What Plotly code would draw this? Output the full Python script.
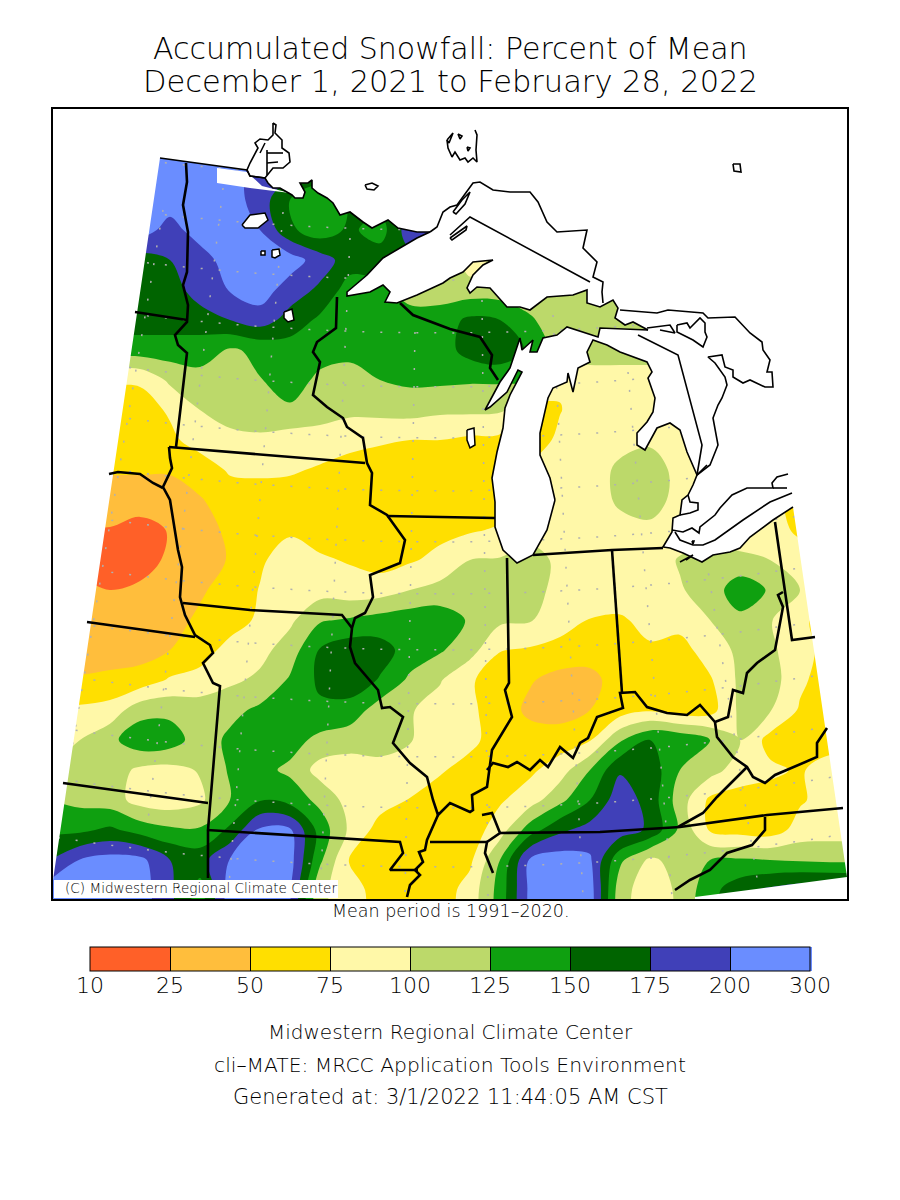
import numpy as np
import plotly.graph_objects as go

# percent of mean at grid nodes (map x 50..860, one list per row)
grid_x = list(range(50, 861, 30))
grid_y = list(range(140, 921, 30))

row_140 = [250,250,250,250,250,250,250,250,188,162,162,162,162,162,112,112,112,112,112,112,112,112,112,112,112,112,112,112]
row_170 = [250,250,250,250,250,250,250,190,185,162,162,162,162,162,112,112,112,112,112,112,112,112,112,112,112,112,112,112]
row_200 = [250,250,250,250,250,250,250,188,150,138,152,162,162,162,112,112,112,112,112,112,112,112,112,112,112,112,112,112]
row_230 = [250,250,250,250,190,250,250,200,155,135,155,138,190,190,112,112,112,112,112,112,112,112,112,112,112,112,112,112]
row_260 = [162,162,162,162,175,188,250,250,250,188,162,165,165,138,85,112,112,112,112,112,112,112,112,112,112,112,112,112]
row_290 = [162,162,162,162,162,188,205,250,188,170,138,138,112,112,112,112,112,112,112,112,112,112,112,112,112,112,112,112]
row_320 = [162,162,162,162,162,162,175,188,165,145,138,138,138,138,155,150,128,112,112,112,112,112,112,112,112,112,112,112]
row_350 = [138,138,138,138,138,138,122,130,138,138,130,138,138,138,160,170,145,112,112,112,112,112,112,112,112,112,112,112]
row_380 = [78,78,78,78,105,115,112,124,140,118,118,125,130,130,128,128,125,78,88,88,88,88,88,88,88,88,88,88]
row_410 = [62,62,62,65,78,100,112,115,120,112,105,108,110,105,105,105,62,74,88,88,88,88,88,88,88,88,88,88]
row_440 = [62,62,62,62,70,85,92,95,88,88,85,78,75,75,70,68,62,80,88,92,95,88,88,88,88,88,88,88]
row_470 = [52,52,52,52,52,62,78,80,78,72,62,62,62,62,62,70,80,88,88,105,115,90,88,88,88,88,88,88]
row_500 = [40,40,40,40,40,48,62,62,62,62,62,62,62,62,62,65,88,85,85,105,115,88,88,88,88,62,62,62]
row_530 = [24,24,24,18,27,40,55,72,72,65,62,62,62,68,72,78,85,88,88,90,92,88,88,88,90,68,62,62]
row_560 = [20,20,20,18,30,38,52,72,85,78,73,65,72,82,100,102,115,92,88,88,88,102,110,105,100,90,62,62]
row_590 = [30,30,25,30,38,46,62,76,90,90,85,88,100,108,118,122,112,90,88,88,92,98,110,142,122,100,88,88]
row_620 = [38,38,38,38,40,55,62,80,95,122,128,135,140,140,122,105,102,88,74,72,82,85,100,118,102,80,65,65]
row_650 = [40,40,40,40,50,62,85,92,112,152,165,160,140,128,110,76,72,65,62,65,72,65,88,105,105,85,65,65]
row_680 = [52,52,55,60,78,85,95,105,128,155,165,148,120,102,78,62,52,42,42,62,72,62,72,105,112,80,62,62]
row_710 = [80,80,85,115,118,112,118,130,140,145,140,112,102,90,80,62,45,40,50,62,72,60,65,105,102,72,62,62]
row_740 = [100,100,118,142,138,112,130,140,135,118,110,110,102,85,82,62,60,62,73,122,150,145,125,100,66,60,62,62]
row_770 = [100,112,112,95,92,102,128,132,120,90,88,92,85,78,65,62,70,88,125,172,165,125,110,88,80,72,88,88]
row_800 = [125,118,112,90,85,95,125,148,140,118,90,85,74,62,60,72,88,118,150,190,165,112,70,65,65,72,85,85]
row_830 = [145,145,155,140,130,128,155,220,215,140,95,65,62,62,62,88,138,170,185,190,170,120,72,65,62,85,88,88]
row_860 = [175,205,240,230,175,165,205,260,240,130,72,62,62,62,70,125,215,250,215,130,95,110,125,128,125,122,120,120]
row_890 = [250,250,250,250,180,140,250,250,210,105,88,62,62,62,85,135,225,250,250,110,85,105,142,165,180,190,190,190]
row_920 = [250,250,250,250,180,140,250,250,210,105,88,62,62,62,85,135,225,250,250,110,85,105,142,165,180,190,190,190]

band_edges = [10, 25, 50, 75, 100, 125, 150, 175, 200, 300]
band_colors = ["#ff6028", "#ffbe3c", "#ffdf00", "#fff8a8", "#bcd96a",
               "#0fa010", "#006400", "#4040b8", "#6a8dff"]

# coast and borders in map coordinates
left_edge = [(53, 880), (160, 158)]
mn_north = [(160,158),(247,170),(250,176),(265,178),(268,183),(273,188),(280,188),(292,195),(295,198),(303,198),(305,192),(300,183),(308,183),(312,180),(312,188),(318,193),(327,198),(333,203),(340,215),(350,212),(363,222),(372,228),(388,220),(398,228),(417,232),(430,232)]
mn_shore = [(430,232),(417,238),(383,258),(367,275),(347,292),(347,296),(370,292),(383,285),(390,292),(385,302),(397,303),(417,295),(443,283),(450,278),(463,272),(473,262),(493,260),(483,265),(473,275),(467,288),(470,293),(477,287),(490,288),(507,307),(520,307),(530,310),(547,297),(573,295),(587,290),(587,303),(600,307),(613,300),(618,308),(615,318),(625,325),(633,322),(648,330)]
up_south = [(648,330),(600,328),(598,337),(567,327),(557,335),(543,338),(537,352),(530,352),(533,340),(522,350),(520,338),(510,368),(500,382),(493,395),(485,410),(490,407),(507,392),(518,370),(522,372),(510,395),(505,408),(503,428),(497,452),(492,478),(495,502),(495,527),(503,550),(517,563),(533,555),(547,530),(555,500)]
mi_coast = [(555,500),(550,478),(540,455),(540,433),(548,398),(553,388),(567,382),(568,373),(573,392),(578,368),(590,362),(587,352),(593,340),(607,345),(620,352),(647,362),(652,372),(648,378),(655,398),(653,412),(647,422),(637,433),(637,445),(645,450),(657,428),(670,423),(680,430),(687,452),(697,475),(693,485),(688,495),(682,500),(680,515),(673,518),(672,532),(663,547),(670,548),(683,553),(702,562),(713,555),(730,552),(740,548),(750,537),(773,520),(793,507)]
right_edge = [(793,507),(847,877),(695,897),(695,905)]

state_lines = [
    [(186,163),(187,182),(183,205),(188,232),(187,272),(183,285),(188,305),(187,322),(175,335),(178,345),(187,353),(176,447)],
    [(135,312),(187,320)],
    [(169,447),(365,463)],
    [(169,447),(170,458),(172,468),(163,487),(170,500),(175,530),(178,550),(182,567),(180,597),(185,615),(195,635),(210,645),(213,653),(203,663),(213,683),(220,686),(208,830),(208,878)],
    [(109,474),(118,472),(140,474),(153,483),(163,488)],
    [(87,622),(195,637)],
    [(183,603),(250,610),(342,615),(352,628)],
    [(337,297),(336,328),(317,342),(313,352),(320,362),(313,395),(327,407),(343,418),(347,427),(363,438),(367,463),(372,473),(370,505),(387,515),(405,540),(400,563),(370,575),(373,597),(365,613),(355,618),(352,628),(350,647),(355,663),(378,690),(382,708),(390,707),(403,717),(393,743),(410,763),(427,777),(433,800),(438,815),(450,803),(470,812),(473,810),(472,795),(487,787),(490,767),(492,750),(512,717),(505,690),(509,683),(507,558)],
    [(387,516),(495,518)],
    [(400,303),(413,315),(450,329),(480,337),(492,355),(490,368),(498,380)],
    [(438,815),(427,840),(425,850),(419,852),(423,862),(415,870),(420,875),(410,885),(407,897)],
    [(207,830),(400,842),(403,853),(390,870),(418,870)],
    [(430,842),(487,842)],
    [(482,815),(492,813),(500,833),(487,842),(485,853),(493,873)],
    [(500,833),(600,832),(680,827),(767,815),(843,808)],
    [(487,770),(493,763),(508,767),(517,762),(530,770),(540,760),(548,767),(560,747),(573,758),(580,743),(588,738),(597,717),(623,708),(620,693),(635,692),(647,707),(667,713),(687,715),(700,705),(715,722),(728,717),(733,690),(743,693),(747,673),(757,663),(775,650),(783,607),(778,595),(783,592)],
    [(612,550),(622,693)],
    [(533,555),(612,550),(663,548)],
    [(715,722),(717,737),(733,757),(747,767),(753,777),(765,783),(775,775),(793,767),(817,757),(817,743),(827,728)],
    [(747,767),(717,797),(703,813),(678,827)],
    [(765,817),(765,830),(752,845),(727,853),(710,870),(690,880),(675,890)],
    [(63,783),(208,803)],
    [(775,522),(792,640),(815,637)],
]
canada_lines = [
    [(450,235),(470,217),(590,282)],
    [(638,335),(678,355),(702,445),(697,475)],
    [(697,475),(710,465),(718,445),(713,418),(718,405),(722,398),(727,385),(725,377),(715,363),(708,357),(722,355),(725,367),(733,370),(733,377),(743,383),(750,380),(765,387),(773,387),(772,372),(767,372),(770,360),(763,350),(762,342),(750,333),(735,317),(708,318),(703,313),(668,310),(657,313),(620,310)],
    [(647,328),(670,325),(675,333),(660,330)],
    [(677,325),(687,323),(690,328),(700,318),(705,323),(705,332),(707,337),(703,347),(693,340),(677,332),(677,325)],
    [(430,232),(437,227),(443,212),(450,207),(457,205),(467,192),(473,183),(480,182),(493,190),(510,192),(530,192),(538,202),(547,222),(557,232),(587,230),(583,248),(597,262),(593,277),(603,282),(602,292),(603,303)],
    [(450,238),(467,226),(466,230),(452,240),(450,238)],
    [(453,212),(462,200),(470,192),(465,204),(456,214),(453,212)],
    [(447,140),(448,148),(452,157),(455,152),(460,160),(465,158),(468,162),(473,158),(477,162),(476,150),(477,135),(475,130)],
    [(447,140),(453,133),(449,143),(447,140)],
    [(458,134),(462,136),(460,139),(458,134)],
    [(467,147),(470,148),(468,151),(467,147)],
    [(365,185),(372,183),(378,186),(374,190),(367,189),(365,185)],
    [(733,164),(740,164),(741,172),(734,171),(733,164)],
    [(273,123),(276,125),(275,133),(282,140),(282,148),(289,153),(290,162),(283,168),(273,168),(265,178),(250,176),(247,170),(250,163),(255,153),(258,148),(255,143),(260,139),(268,140),(273,135),(273,123)],
    [(260,153),(265,143)],
    [(267,153),(283,153)],
    [(267,163),(278,162)],
    [(267,150),(267,175)],
    [(688,495),(690,502),(698,503),(698,510),(690,513),(680,515)],
    [(707,465),(697,475)],
    [(672,530),(683,532),(692,528),(699,533),(700,527),(715,515),(720,508),(732,495),(747,488),(773,488),(772,483),(777,477),(788,474)],
    [(773,488),(787,488)],
    [(675,532),(680,540),(693,545),(703,545),(715,540),(743,520),(770,502),(792,493)],
    [(692,541),(694,541),(693,544),(692,541)],
    [(680,562),(693,555),(686,560)],
]
inland_lakes = [
    [(242,225),(250,215),(265,213),(268,220),(258,228),(245,228),(242,225)],
    [(272,250),(279,249),(280,255),(275,258),(272,257),(272,250)],
    [(284,312),(292,309),(294,320),(288,322),(284,318),(284,312)],
    [(261,251),(265,251),(265,255),(261,255),(261,251)],
    [(467,430),(474,428),(475,445),(470,448),(467,440),(467,430)],
]
no_data_wedge = [(217,168),(247,172),(262,186),(290,193),(250,188),(217,183),(217,168)]

# graticule: parallels by their y at the centre of the map, meridians by two points
parallel_mid = [178, 230, 280, 333, 387, 438, 491, 542, 594, 650, 704, 757, 808, 867]
meridians = [
    [(163,210),(70,760)],
    [(223,188),(148,820)],
    [(283,212),(228,897)],
    [(350,238),(320,897)],
    [(415,332),(405,897)],
    [(482,300),(488,897)],
    [(553,315),(583,897)],
    [(628,372),(672,897)],
    [(700,520),(760,897)],
    [(813,627),(847,850)],
]

light_font = "DejaVu Sans ExtraLight, DejaVu Sans Light, DejaVu Sans"


def path_xy(paths):
    xs, ys = [], []
    for p in paths:
        xs += [a for a, b in p] + [None]
        ys += [b for a, b in p] + [None]
    return xs, ys


rows = [row_140, row_170, row_200, row_230, row_260, row_290, row_320, row_350, row_380,
        row_410, row_440, row_470, row_500, row_530, row_560, row_590, row_620, row_650,
        row_680, row_710, row_740, row_770, row_800, row_830, row_860, row_890, row_920]
# contour levels have to be even, so work in band index
z = np.interp(np.array(rows, dtype=float), band_edges, range(len(band_edges)))

scale = []
for i, c in enumerate(band_colors):
    scale += [[i / 9, c], [(i + 1) / 9, c]]

fig = go.Figure()
fig.add_trace(go.Contour(
    x=grid_x, y=grid_y, z=z, zmin=0, zmax=9,
    autocontour=False, contours=dict(start=0, end=9, size=1, coloring="fill", showlines=False),
    line=dict(width=0, smoothing=1), colorscale=scale, hoverinfo="skip",
    colorbar=dict(orientation="h", x=0.5, xanchor="center", y=1 - 947 / 1200, yanchor="top",
                  lenmode="pixels", len=720, thickness=24, thicknessmode="pixels",
                  outlinecolor="black", outlinewidth=1, xpad=0, ypad=0,
                  tickmode="array", tickvals=list(range(10)), showticklabels=False,
                  ticks="inside", ticklen=24, tickcolor="black", tickwidth=1),
))

# dotted graticule goes under the mask so it stops at the edge of the data
px = np.arange(40, 870, 10)
gx, gy = [], []
for mid in parallel_mid:
    gx += list(px) + [None]
    gy += list(mid - 2e-4 * (px - 440) ** 2) + [None]
mx, my = path_xy(meridians)
fig.add_trace(go.Scatter(x=gx + mx, y=gy + my, mode="lines", hoverinfo="skip",
                         line=dict(color="#b0b0b0", width=1.5, dash="2px,16px")))

mask = left_edge + mn_north[1:] + mn_shore[1:] + up_south[1:] + mi_coast[1:] + right_edge[1:]
mask = mask + [(860, 905), (860, 100), (40, 100), (40, 905), (53, 905), (53, 880)]
wx, wy = path_xy([mask, no_data_wedge])
fig.add_trace(go.Scatter(x=wx, y=wy, mode="lines", fill="toself", fillcolor="white",
                         line=dict(width=0), hoverinfo="skip"))

lx, ly = path_xy(inland_lakes)
fig.add_trace(go.Scatter(x=lx, y=ly, mode="lines", fill="toself", fillcolor="white",
                         line=dict(color="black", width=1.5), hoverinfo="skip"))

cx, cy = path_xy(canada_lines + [mn_north, mn_shore, up_south, mi_coast])
fig.add_trace(go.Scatter(x=cx, y=cy, mode="lines", line=dict(color="black", width=1.6), hoverinfo="skip"))
sx, sy = path_xy(state_lines)
fig.add_trace(go.Scatter(x=sx, y=sy, mode="lines", line=dict(color="black", width=2.6), hoverinfo="skip"))

fig.update_xaxes(range=[53, 847], domain=[53 / 900, 847 / 900], showgrid=False, zeroline=False,
                 showticklabels=False, ticks="", showline=True, mirror=True, linecolor="black", linewidth=2)
fig.update_yaxes(range=[899, 109], domain=[1 - 899 / 1200, 1 - 109 / 1200], showgrid=False, zeroline=False,
                 showticklabels=False, ticks="", showline=True, mirror=True, linecolor="black", linewidth=2)


def label(text, y, size, x=450):
    fig.add_annotation(text=text, xref="paper", yref="paper", x=x / 900, y=1 - y / 1200, showarrow=False,
                       xanchor="center", yanchor="middle",
                       font=dict(family=light_font, size=size, color="black"))


label("Accumulated Snowfall: Percent of Mean", 48, 30)
label("December 1, 2021 to February 28, 2022", 81, 30.5)
label("Mean period is 1991\u20132020.", 911, 17.5)
label("Midwestern Regional Climate Center", 1032, 20)
label("cli\u2013MATE: MRCC Application Tools Environment", 1065, 20.3)
label("Generated at: 3/1/2022 11:44:05 AM CST", 1097, 21)
# colour bar labels sit closer to the bar than the colorbar would put them
for i, edge in enumerate(band_edges):
    label(str(edge), 985, 22, x=90 + 80 * i)

# white box behind the credit at the bottom left of the map
fig.add_shape(type="rect", xref="x", yref="y", x0=54, x1=338, y0=880, y1=898,
              fillcolor="white", line=dict(width=0), layer="above")
fig.add_annotation(text="(C) Midwestern Regional Climate Center", xref="x", yref="y", x=63, y=888,
                   xanchor="left", yanchor="middle", showarrow=False,
                   font=dict(family=light_font, size=13.6, color="black"))

fig.update_layout(width=900, height=1200, margin=dict(l=0, r=0, t=0, b=0), showlegend=False,
                  plot_bgcolor="white", paper_bgcolor="white")
fig.write_html("out.html", config=dict(displayModeBar=False), post_script="document.body.style.margin='0';")
